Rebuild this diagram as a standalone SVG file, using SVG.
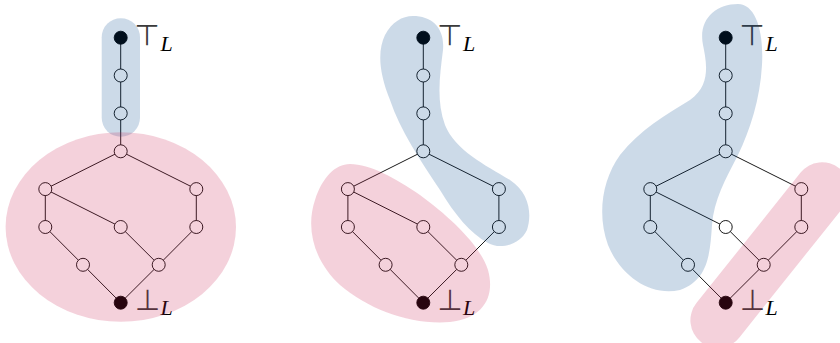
<svg xmlns="http://www.w3.org/2000/svg" width="840" height="343" viewBox="0 0 840 343">
<style>
.e{stroke:#000;stroke-width:0.9;fill:none}
.n{fill:#fff;stroke:#000;stroke-width:0.9}
.f{fill:#000;stroke:#000;stroke-width:0.9}
.blue{fill:rgb(0,70,140);fill-opacity:0.2}
.pink{fill:rgb(200,25,75);fill-opacity:0.2}
.sym{font-family:"DejaVu Sans",sans-serif;font-size:29px;fill:#3a3a3a}
.lab{font-family:"Liberation Serif",serif;font-style:italic;font-size:22px;fill:#000}
</style>
<rect width="840" height="343" fill="#fff"/>

<!-- Diagram 1 -->
<g id="d1">
<g id="d1-edges">
<path class="e" d="M120.7,37.7V151.3 M120.7,151.3L45.3,189.1 M120.7,151.3L196.3,189.1 M45.3,189.1V227 M45.3,189.1L120.7,227 M196.3,189.1V227 M45.3,227L83,264.8 M120.7,227L158.7,264.8 M196.3,227L158.7,264.8 M83,264.8L120.7,302.7 M158.7,264.8L120.7,302.7"/>
</g>
<g id="d1-n0"><circle class="f" cx="120.7" cy="37.7" r="6.5"/></g>
<g id="d1-n1"><circle class="n" cx="120.7" cy="75.5" r="6.5"/></g>
<g id="d1-n2"><circle class="n" cx="120.7" cy="113.4" r="6.5"/></g>
<g id="d1-n3"><circle class="n" cx="120.7" cy="151.3" r="6.5"/></g>
<g id="d1-n4"><circle class="n" cx="45.3" cy="189.1" r="6.5"/></g>
<g id="d1-n5"><circle class="n" cx="196.3" cy="189.1" r="6.5"/></g>
<g id="d1-n6"><circle class="n" cx="45.3" cy="227" r="6.5"/></g>
<g id="d1-n7"><circle class="n" cx="120.7" cy="227" r="6.5"/></g>
<g id="d1-n8"><circle class="n" cx="196.3" cy="227" r="6.5"/></g>
<g id="d1-n9"><circle class="n" cx="83" cy="264.8" r="6.5"/></g>
<g id="d1-n10"><circle class="n" cx="158.7" cy="264.8" r="6.5"/></g>
<g id="d1-n11"><circle class="f" cx="120.7" cy="302.7" r="6.5"/></g>
<g id="d1-top-label"><text class="sym" x="147" y="45" text-anchor="middle">⊤</text><text class="lab" x="160.5" y="51">L</text></g>
<g id="d1-bot-label"><text class="sym" x="147.4" y="310" text-anchor="middle">⊥</text><text class="lab" x="160.5" y="315">L</text></g>
<rect class="blue" x="101.7" y="18.3" width="38.3" height="118.4" rx="19" ry="19"/>
<ellipse class="pink" cx="120.8" cy="227" rx="115.2" ry="94.7"/>
</g>

<!-- Diagram 2 -->
<g id="d2">
<g id="d2-edges">
<path class="e" d="M423.3,37.7V151.3 M423.3,151.3L347.9,189.1 M423.3,151.3L498.9,189.1 M347.9,189.1V227 M347.9,189.1L423.3,227 M498.9,189.1V227 M347.9,227L385.6,264.8 M423.3,227L461.3,264.8 M498.9,227L461.3,264.8 M385.6,264.8L423.3,302.7 M461.3,264.8L423.3,302.7"/>
</g>
<g id="d2-n0"><circle class="f" cx="423.3" cy="37.7" r="6.5"/></g>
<g id="d2-n1"><circle class="n" cx="423.3" cy="75.5" r="6.5"/></g>
<g id="d2-n2"><circle class="n" cx="423.3" cy="113.4" r="6.5"/></g>
<g id="d2-n3"><circle class="n" cx="423.3" cy="151.3" r="6.5"/></g>
<g id="d2-n4"><circle class="n" cx="347.9" cy="189.1" r="6.5"/></g>
<g id="d2-n5"><circle class="n" cx="498.9" cy="189.1" r="6.5"/></g>
<g id="d2-n6"><circle class="n" cx="347.9" cy="227" r="6.5"/></g>
<g id="d2-n7"><circle class="n" cx="423.3" cy="227" r="6.5"/></g>
<g id="d2-n8"><circle class="n" cx="498.9" cy="227" r="6.5"/></g>
<g id="d2-n9"><circle class="n" cx="385.6" cy="264.8" r="6.5"/></g>
<g id="d2-n10"><circle class="n" cx="461.3" cy="264.8" r="6.5"/></g>
<g id="d2-n11"><circle class="f" cx="423.3" cy="302.7" r="6.5"/></g>
<g id="d2-top-label"><text class="sym" x="449.6" y="45" text-anchor="middle">⊤</text><text class="lab" x="463.1" y="51">L</text></g>
<g id="d2-bot-label"><text class="sym" x="450" y="310" text-anchor="middle">⊥</text><text class="lab" x="463.1" y="315">L</text></g>
<path class="blue" d="M413,16 C432,16 445,28 443,50 C440,75 436,100 445,125 C455,150 485,165 510,180 C530,193 532,215 527,230 C520,245 500,250 488,243 C470,233 455,215 440,190 C420,160 400,130 390,100 C378,70 378,50 385,35 C392,22 402,16 413,16 Z"/>
<path class="pink" d="M350,164 C370,164 395,178 420,195 C450,217 480,245 488,270 C495,295 485,318 450,322 C410,325 370,310 340,285 C315,262 305,230 315,200 C322,178 335,164 350,164 Z"/>
</g>

<!-- Diagram 3 -->
<g id="d3">
<g id="d3-edges">
<path class="e" d="M725.7,37.7V151.3 M725.7,151.3L650.3,189.1 M725.7,151.3L801.3,189.1 M650.3,189.1V227 M650.3,189.1L725.7,227 M801.3,189.1V227 M650.3,227L688,264.8 M725.7,227L763.7,264.8 M801.3,227L763.7,264.8 M688,264.8L725.7,302.7 M763.7,264.8L725.7,302.7"/>
</g>
<g id="d3-n0"><circle class="f" cx="725.7" cy="37.7" r="6.5"/></g>
<g id="d3-n1"><circle class="n" cx="725.7" cy="75.5" r="6.5"/></g>
<g id="d3-n2"><circle class="n" cx="725.7" cy="113.4" r="6.5"/></g>
<g id="d3-n3"><circle class="n" cx="725.7" cy="151.3" r="6.5"/></g>
<g id="d3-n4"><circle class="n" cx="650.3" cy="189.1" r="6.5"/></g>
<g id="d3-n5"><circle class="n" cx="801.3" cy="189.1" r="6.5"/></g>
<g id="d3-n6"><circle class="n" cx="650.3" cy="227" r="6.5"/></g>
<g id="d3-n7"><circle class="n" cx="725.7" cy="227" r="6.5"/></g>
<g id="d3-n8"><circle class="n" cx="801.3" cy="227" r="6.5"/></g>
<g id="d3-n9"><circle class="n" cx="688" cy="264.8" r="6.5"/></g>
<g id="d3-n10"><circle class="n" cx="763.7" cy="264.8" r="6.5"/></g>
<g id="d3-n11"><circle class="f" cx="725.7" cy="302.7" r="6.5"/></g>
<g id="d3-top-label"><text class="sym" x="752" y="45" text-anchor="middle">⊤</text><text class="lab" x="765.5" y="51">L</text></g>
<g id="d3-bot-label"><text class="sym" x="752.4" y="310" text-anchor="middle">⊥</text><text class="lab" x="765.5" y="315">L</text></g>
<path class="blue" d="M738,4 C755,4 764,30 762,65 C760,100 750,130 738,155 C725,180 714,200 712,225 C710,255 708,280 680,290 C650,297 620,275 608,245 C597,215 602,180 620,155 C640,130 665,115 690,100 C712,85 706,60 703,45 C698,20 715,4 738,4 Z"/>
<rect class="pink" x="-111" y="-27.5" width="222" height="55" rx="27.5" ry="27.5" transform="translate(770,255) rotate(-51.4)"/>
</g>
</svg>
